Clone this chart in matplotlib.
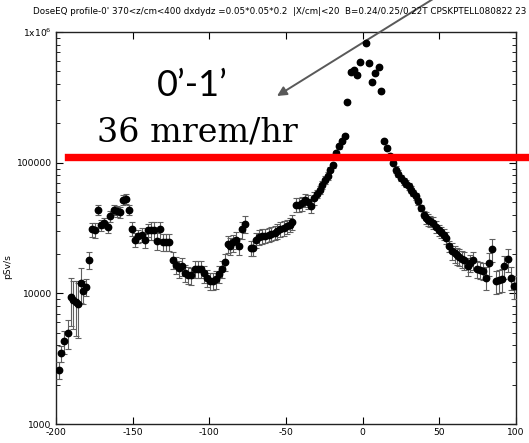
import numpy as np
import matplotlib
matplotlib.use("Agg")
import matplotlib.pyplot as plt

plt.rcParams['axes.unicode_minus'] = False

# position along the profile (cm)
x_cm = [-198.2, -196.6, -194.6, -192.5, -190.5, -188.8, -187.2, -185.7, -184.0, -182.2,
        -180.3, -178.2, -176.2, -174.5, -172.4, -170.5, -168.4, -166.3, -164.5, -162.5,
        -160.4, -158.4, -156.3, -154.4, -152.3, -150.3, -148.3, -146.2, -144.2, -142.0,
        -140.0,
        -138.0, -136.0, -134.0, -132.0, -130.0, -128.0, -126.0, -123.9, -122.0, -120.1,
        -118.1, -115.9, -113.9, -111.9, -109.6, -107.5, -105.5, -103.6, -101.7, -99.6,
        -97.5, -95.7, -93.8, -91.8, -89.9, -88.0, -86.3, -84.5, -82.7, -80.6,
        -78.5, -76.5,
        -72.9, -71.2, -69.6, -67.4, -65.4, -63.4, -61.4, -59.5, -57.5, -55.6,
        -53.6, -51.6, -49.6, -47.7, -45.8, -43.8, -41.8, -39.8, -37.7, -35.8,
        -33.8, -31.9, -29.9, -27.9, -26.2, -24.5, -22.9, -21.5, -19.5, -17.2,
        -15.3, -13.3, -11.5,
        -9.9, -7.3, -5.7, -3.7, -1.9, 2.2, 4.1, 6.3, 8.3, 10.5, 12.2, 13.8, 15.9, 17.9, 19.8,
        21.9, 23.3, 25.1, 26.8, 28.4, 29.9, 31.7, 33.1, 34.9, 36.4,
        38.2, 39.7, 41.1, 42.6, 44.1, 45.8, 48.0, 49.8, 51.3, 52.8,
        54.5, 56.6, 58.4, 60.2, 61.7, 63.1, 64.6, 66.2, 68.8, 70.3,
        71.9, 74.4, 76.2, 78.3, 80.6, 82.4, 84.4, 87.0, 89.2, 91.0,
        92.4, 94.6, 96.8, 98.6, 99.7]

# dose rate pSv/s
dose = [2600, 3480, 4320, 5010, 9370, 8890, 8590, 8290, 12080, 10400,
        11250, 17950, 30800, 30500, 43800, 33200, 34700, 32100, 38900, 43800,
        42500, 41800, 52200, 52800, 43800, 31300, 25800, 27400, 28200, 25400,
        30500,
        30300, 30300, 25100, 30800, 24800, 24700, 24700, 18000, 16400, 15500,
        16100, 14300, 13800, 13700, 15300, 15300, 15300, 14200, 13200, 12500,
        12400, 12800, 14000, 15300, 17300, 23800, 23000, 24500, 25800, 23000,
        30800, 34200,
        22100, 22100, 25400, 27100, 27400, 27700, 28200, 28700, 29200, 30000,
        31100, 31600, 32500, 33600, 35100, 47800, 47800, 48700, 51700, 50400,
        47000, 53600, 58000, 62200, 67900, 74100, 78600, 88400, 95300, 119000,
        133600, 147200, 159900,
        293800, 497700, 510300, 469700, 587100, 820000, 576800, 417500, 483800, 538000,
        354500, 145400, 129500, 113000, 100000,
        88400, 82400, 76400, 72000, 69100, 65900, 62200, 58700, 55300, 50700,
        45100, 40100, 37800, 36700, 35600, 34600, 32300, 30400, 29400, 28200,
        26600, 23000, 21000, 20200, 19500, 18900, 18400, 17900, 16100, 17100,
        17900, 15400, 15100, 14800, 13200, 17100, 21900, 12400, 12600, 12800,
        16100, 18200, 13200, 11400, 11300]

# relative error of each point
rel_err = [0.15, 0.14, 0.2, 0.25, 0.4, 0.4, 0.45, 0.45, 0.3, 0.2,
           0.15, 0.15, 0.13, 0.13, 0.09, 0.09, 0.09, 0.09, 0.09, 0.09,
           0.09, 0.09, 0.09, 0.09, 0.09, 0.12, 0.12, 0.12, 0.12, 0.12,
           0.12,
           0.15, 0.15, 0.15, 0.15, 0.15, 0.15, 0.15, 0.15, 0.15, 0.15,
           0.15, 0.15, 0.15, 0.15, 0.15, 0.15, 0.15, 0.15, 0.15, 0.15,
           0.15, 0.15, 0.15, 0.15, 0.15, 0.15, 0.15, 0.15, 0.15, 0.15,
           0.15, 0.15,
           0.13, 0.13, 0.13, 0.13, 0.13, 0.13, 0.13, 0.13, 0.13, 0.13,
           0.13, 0.13, 0.13, 0.13, 0.13, 0.12, 0.12, 0.12, 0.12, 0.12,
           0.12, 0.12, 0.07, 0.07, 0.07, 0.07, 0.07, 0.04, 0.04, 0.04,
           0.04, 0.04, 0.04,
           0.03, 0.03, 0.03, 0.03, 0.03, 0.03, 0.03, 0.03, 0.03, 0.03,
           0.03, 0.03, 0.03, 0.03, 0.03,
           0.06, 0.06, 0.06, 0.06, 0.06, 0.06, 0.06, 0.06, 0.06, 0.06,
           0.06, 0.06, 0.1, 0.1, 0.1, 0.1, 0.1, 0.1, 0.1, 0.1,
           0.1, 0.1, 0.15, 0.15, 0.15, 0.15, 0.15, 0.15, 0.15, 0.15,
           0.15, 0.15, 0.15, 0.15, 0.2, 0.2, 0.2, 0.2, 0.2, 0.2,
           0.2, 0.2, 0.2, 0.2, 0.2]

xticks = [-200, -150, -100, -50, 0, 50, 100]
yticks = [1000, 10000, 100000, 1000000]
ytick_labels = ['1000', '10000', '100000', r'1x10$^6$']
title = ("DoseEQ profile-0' 370<z/cm<400 dxdydz =0.05*0.05*0.2  |X/cm|<20  "
         "B=0.24/0.25/0.22T CPSKPTELL080822 23")
limit_level = 1.1e5

W, H = 529, 443
fig = plt.figure(figsize=(W / 100, H / 100), dpi=100)
ax = fig.add_axes([56 / W, 1 - 424 / H, (516 - 56) / W, (424 - 32) / H])

d = np.array(dose, dtype=float)
ax.errorbar(x_cm, d, yerr=d * np.array(rel_err), fmt='o', color='black', ms=4.6,
            ecolor='#606060', elinewidth=0.8, capsize=2.2, capthick=0.8, zorder=3)

ax.set_yscale('log')
ax.set_xlim(-200, 100)
ax.set_ylim(1000, 1e6)
ax.set_xticks(xticks)
ax.set_xticklabels([str(t) for t in xticks])
ax.set_yticks(yticks)
ax.set_yticklabels(ytick_labels)
ax.tick_params(which='both', direction='in', top=True, right=True, labelsize=6.6, pad=3)
ax.tick_params(which='major', length=5, width=0.8)
ax.tick_params(which='minor', length=3, width=0.6)
ax.xaxis.set_minor_locator(matplotlib.ticker.NullLocator())
for s in ax.spines.values():
    s.set_linewidth(1.0)
    s.set_color('#222222')

fig.text(33 / W, 1 - 11.5 / H, title, fontsize=6.3, ha='left', va='center')
fig.text(8 / W, 1 - 267 / H, 'pSv/s', fontsize=6.6, rotation=90, ha='center', va='center')

# red level line and annotations
ax.axhline(limit_level, xmin=(68 - 56) / 460, xmax=1.05, color='#ff0000', lw=5.3,
           clip_on=False, zorder=4)
fig.text(157 / W, 1 - 85 / H, '0\u2019-1\u2019', fontsize=26, family='Lato',
         ha='left', va='center')
fig.text(97 / W, 1 - 132 / H, '36 mrem/hr', fontsize=24, family='DejaVu Serif',
         ha='left', va='center')
ax.annotate('', xy=(277, H - 96), xycoords='figure pixels',
            xytext=(433, H + 1), textcoords='figure pixels',
            arrowprops=dict(arrowstyle='-|>', color='#595959', lw=1.4,
                            mutation_scale=14, shrinkA=0, shrinkB=0))

fig.savefig('out.png', dpi=100)
